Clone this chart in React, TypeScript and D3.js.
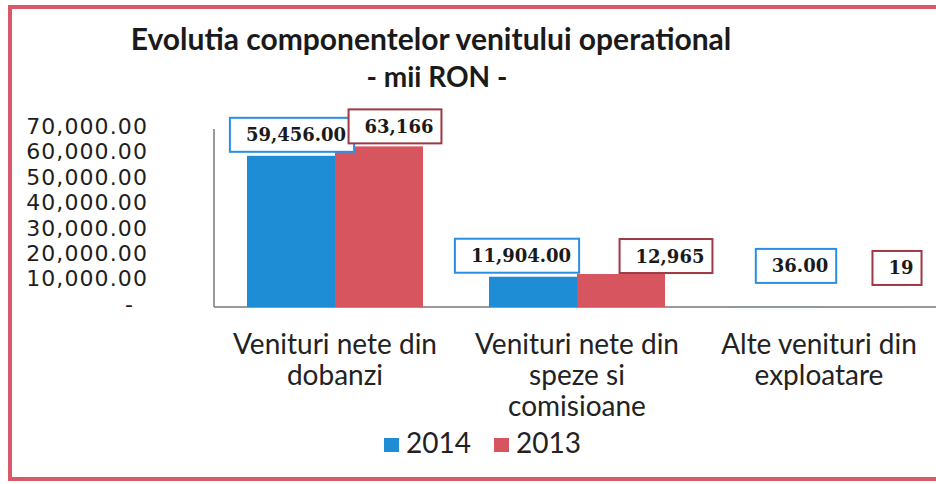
import React, { useRef, useEffect } from "react";
import * as d3 from "d3";

const categories = [
  ["Venituri nete din", "dobanzi"],
  ["Venituri nete din", "speze si", "comisioane"],
  ["Alte venituri din", "exploatare"],
];
const seriesNames = ["2014", "2013"];
const values2014 = [59456, 11904, 36];
const values2013 = [63166, 12965, 19];
const yTicks = [0, 10000, 20000, 30000, 40000, 50000, 60000, 70000];

const colors = ["#1f8dd6", "#d6555f"];
const labelBorders = ["#2a8fe3", "#9c3944"];
const formats = [d3.format(",.2f"), d3.format(",")];
// label boxes were moved by hand in the original: offset of box centre from bar top centre
const labelOffsets = [
  [[1, -21], [-16, -21], [21, -41]],
  [[16, -20], [45, -18], [34, -39]],
];

const App = () => {
  const svgRef = useRef<SVGSVGElement>(null);

  useEffect(() => {
    const width = 936;
    const height = 484;
    const svg = d3.select(svgRef.current);
    svg.selectAll("*").remove();
    svg.attr("width", width).attr("height", height);

    svg.append("rect").attr("width", width).attr("height", height).attr("fill", "#fff");

    // red frame
    svg
      .append("rect")
      .attr("x", 10)
      .attr("y", 7)
      .attr("width", 940)
      .attr("height", 472)
      .attr("fill", "none")
      .attr("stroke", "#d9596b")
      .attr("stroke-width", 4);

    svg
      .append("text")
      .attr("x", 431)
      .attr("y", 50)
      .attr("text-anchor", "middle")
      .style("font-family", "Lato, 'Open Sans', sans-serif")
      .style("font-weight", "bold")
      .style("font-size", "30px")
      .attr("fill", "#1a1a1a")
      .text("Evolutia componentelor venitului operational");
    svg
      .append("text")
      .attr("x", 437)
      .attr("y", 87)
      .attr("text-anchor", "middle")
      .style("font-family", "Lato, 'Open Sans', sans-serif")
      .style("font-weight", "bold")
      .style("font-size", "28px")
      .attr("fill", "#1a1a1a")
      .text("- mii RON -");

    const data = [values2014, values2013];
    const keys = categories.map((c) => c.join(" "));

    const x0 = d3.scaleBand().domain(keys).range([214, 940]).padding(0);
    const x1 = d3
      .scaleBand()
      .domain(seriesNames)
      .range([33, x0.bandwidth() - 33])
      .padding(0);
    const y = d3.scaleLinear().domain([0, 70000]).range([307, 129]);

    // y axis labels
    const yAxis = svg
      .append("g")
      .attr("transform", "translate(148,0)")
      .call(
        d3
          .axisLeft(y)
          .tickValues(yTicks)
          .tickSize(0)
          .tickPadding(0)
          .tickFormat((d) => (+d === 0 ? "-" : d3.format(",.2f")(+d)))
      );
    yAxis.select(".domain").remove();
    yAxis
      .selectAll("text")
      .attr("fill", "#1e1e1e")
      .attr("dy", "0.2em")
      .attr("x", (d) => (+d === 0 ? -14 : 0))
      .style("font-family", "'DejaVu Sans', Verdana, sans-serif")
      .style("font-size", "22px")
      .style("letter-spacing", "1.1px");

    // axis lines
    svg
      .append("line")
      .attr("x1", 214)
      .attr("x2", 214)
      .attr("y1", y(70000))
      .attr("y2", y(0))
      .attr("stroke", "#777")
      .attr("stroke-width", 1.5);
    svg
      .append("line")
      .attr("x1", 214)
      .attr("x2", 940)
      .attr("y1", y(0))
      .attr("y2", y(0))
      .attr("stroke", "#777")
      .attr("stroke-width", 1.5);

    // bars
    data.forEach((vals, si) => {
      svg
        .append("g")
        .selectAll("rect")
        .data(vals)
        .enter()
        .append("rect")
        .attr("x", (d, i) => x0(keys[i]) + x1(seriesNames[si]))
        .attr("y", (d) => y(d))
        .attr("width", x1.bandwidth())
        .attr("height", (d) => y(0) - y(d))
        .attr("fill", colors[si]);
    });

    // data labels
    data.forEach((vals, si) => {
      vals.forEach((v, i) => {
        const cx = x0(keys[i]) + x1(seriesNames[si]) + x1.bandwidth() / 2 + labelOffsets[si][i][0];
        const cy = y(v) + labelOffsets[si][i][1];
        const g = svg.append("g");
        const t = g
          .append("text")
          .attr("x", cx + 4)
          .attr("y", cy + 6.5)
          .attr("text-anchor", "middle")
          .style("font-family", "'DejaVu Serif', serif")
          .style("font-weight", "bold")
          .style("font-size", "18px")
          .attr("fill", "#1a1a1a")
          .text(formats[si](v));
        const w = (t.node() as SVGTextElement).getComputedTextLength() + 24;
        g.insert("rect", "text")
          .attr("x", cx - w / 2)
          .attr("y", cy - 17)
          .attr("width", w)
          .attr("height", 34)
          .attr("fill", "#fff")
          .attr("stroke", labelBorders[si])
          .attr("stroke-width", 2);
      });
    });

    // category labels
    categories.forEach((lines, i) => {
      const t = svg
        .append("text")
        .attr("text-anchor", "middle")
        .style("font-family", "Lato, 'Open Sans', sans-serif")
        .style("font-size", "28px")
        .attr("fill", "#222");
      lines.forEach((line, j) => {
        t.append("tspan")
          .attr("x", x0(keys[i]) + x0.bandwidth() / 2)
          .attr("y", 354 + j * 31)
          .text(line);
      });
    });

    // legend
    const legend = svg.append("g");
    const legendX = [384, 494];
    seriesNames.forEach((name, i) => {
      legend
        .append("rect")
        .attr("x", legendX[i])
        .attr("y", 438)
        .attr("width", 15)
        .attr("height", 14)
        .attr("fill", colors[i]);
      legend
        .append("text")
        .attr("x", legendX[i] + 22)
        .attr("y", 453)
        .style("font-family", "Lato, 'Open Sans', sans-serif")
        .style("font-size", "28px")
        .attr("fill", "#222")
        .text(name);
    });
  }, []);

  return (
    <svg
      ref={svgRef}
      style={{ position: "absolute", left: 0, top: 0, display: "block" }}
    ></svg>
  );
};

export default App;
